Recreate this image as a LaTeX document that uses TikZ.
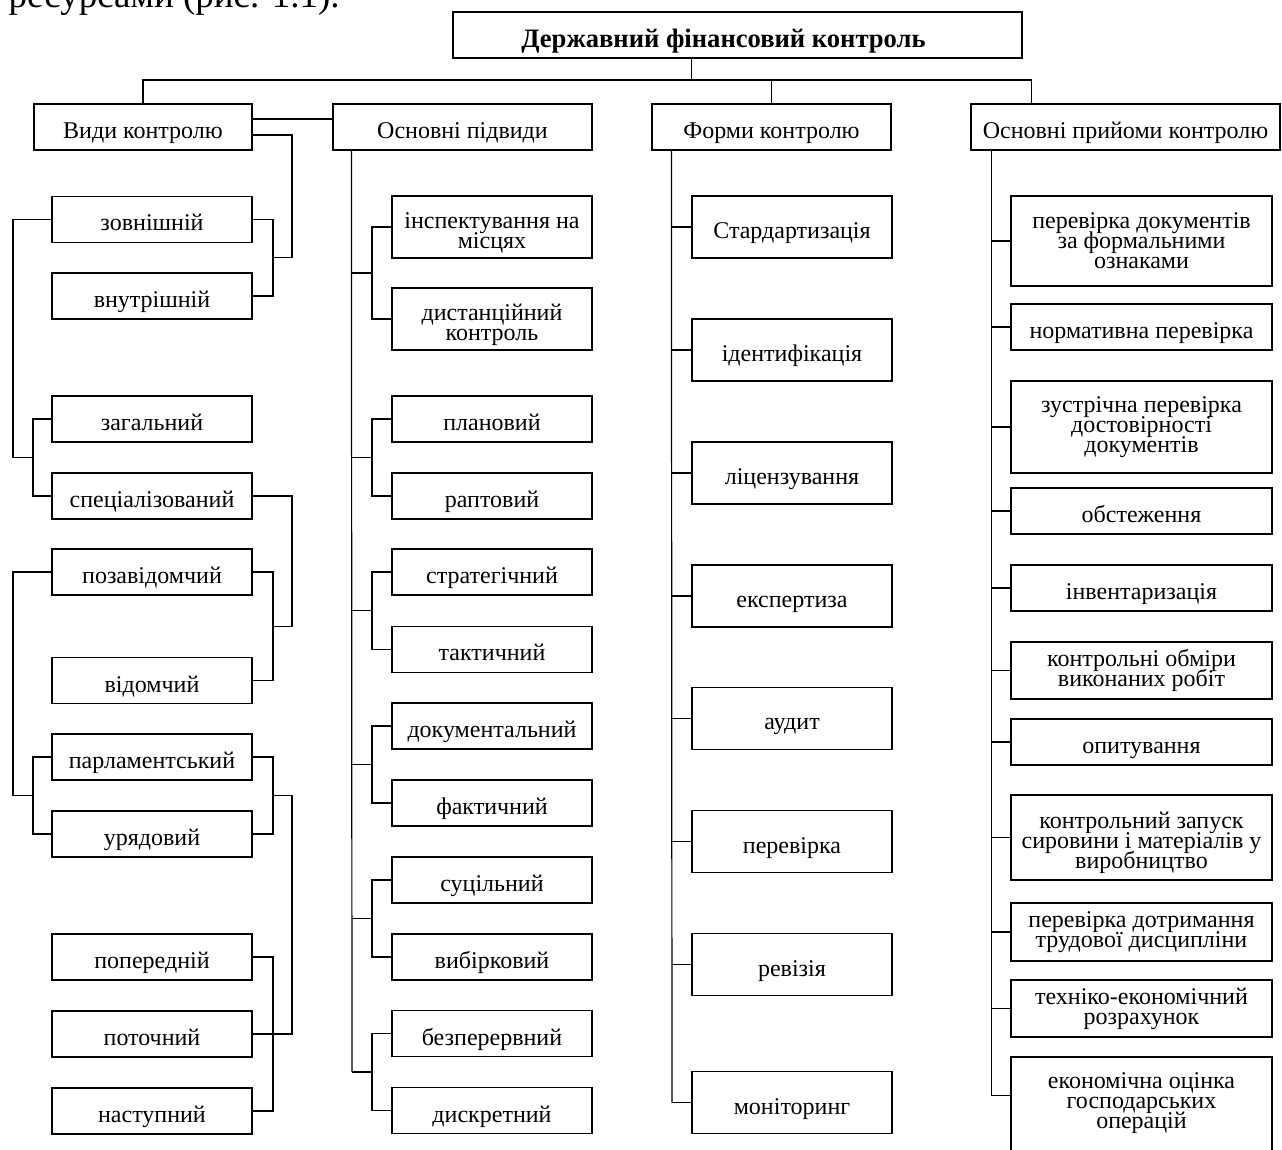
\documentclass[tikz,border=0pt]{standalone}
\usepackage{fontspec}
\setmainfont{Liberation Serif}
\usetikzlibrary{calc}
\newcommand\tightlines{\lineskiplimit=-100pt\relax}

\begin{document}
\begin{tikzpicture}[x=0.5pt,y=-0.5pt,line width=0.6pt,
  kbox/.style={draw, minimum width=100pt, minimum height=23pt, inner sep=1pt,
    align=center, text height=12.5pt, text depth=1pt,
    font=\fontsize{12}{10}\selectfont\tightlines},
  multi/.style={text height=, text depth=},
  tallbox/.style={kbox, minimum height=31pt},
  wbox/.style={kbox, multi, minimum width=130.5pt}]
\useasboundingbox (0,0) rectangle (1282,1150);
% line of the page above the figure:
\node[anchor=base west, inner sep=0, font=\fontsize{18.5}{22}\selectfont] (txt) at (8,8) {ресурсами (рис. 1.1).};
% x of the connector lines:
\coordinate (bus) at (0,80);
\coordinate (l1) at (13,0); \coordinate (l2) at (33,0);
\coordinate (r1) at (273,0); \coordinate (r2) at (292,0);
\coordinate (s2) at (352,0); \coordinate (b2) at (372,0);
\coordinate (s3) at (672,0); \coordinate (s4) at (992,0);

% top:
\node[kbox, minimum width=284.5pt, text height=14pt,
  font=\bfseries\fontsize{13.3}{10}\selectfont] (dfk) at (737.5,35) {Державний фінансовий контроль\hspace*{14pt}};
\node[kbox, minimum width=109pt] (vk) at (143,127) {Види контролю};
\node[kbox, minimum width=129.5pt] (pv) at (462.5,127) {Основні підвиди};
\node[kbox, minimum width=119.5pt] (fk) at (771.5,127) {Форми контролю};
\node[kbox, minimum width=154.5pt] (pk) at (1125.5,127) {Основні прийоми контролю};
\draw ($(dfk.south west)+(239,0)$) coordinate (t) -- (t |- bus);
\coordinate (pk61) at ($(pk.north west)+(61,0)$);
\draw (vk.north) -- (vk.north |- bus) -- (pk61 |- bus) -- (pk61);
\draw (fk.north) -- (fk.north |- bus);

% Види контролю:
\node[kbox] (zov) at (152,219.5) {зовнішній};
\node[kbox] (vnu) at (152,296) {внутрішній};
\node[kbox] (zag) at (152,419) {загальний};
\node[kbox] (spe) at (152,496) {спеціалізований};
\node[kbox] (poz) at (152,572) {позавідомчий};
\node[kbox] (vid) at (152,680.5) {відомчий};
\node[kbox] (par) at (152,757) {парламентський};
\node[kbox] (ur) at (152,834) {урядовий};
\node[kbox] (pop) at (152,957) {попередній};
\node[kbox] (pot) at (152,1034) {поточний};
\node[kbox] (nas) at (152,1111) {наступний};
\draw ($(vk.east)+(0,-8)$) coordinate (a1) -- (pv.west |- a1);
\draw (zov.east) -- (zov.east -| r1) -- (vnu.east -| r1) -- (vnu.east);
\coordinate (m1) at ($(zov.east)!0.5!(vnu.east)$);
\draw ($(vk.east)+(0,8)$) -| (r2 |- m1) -- (r1 |- m1);
\draw (zag.west) -- (zag.west -| l2) -- (spe.west -| l2) -- (spe.west);
\coordinate (m2) at ($(zag.west)!0.5!(spe.west)$);
\draw (zov.west) -| (l1 |- m2) -- (l2 |- m2);
\draw (poz.east) -- (poz.east -| r1) -- (vid.east -| r1) -- (vid.east);
\coordinate (m3) at ($(poz.east)!0.5!(vid.east)$);
\draw (spe.east) -| (r2 |- m3) -- (r1 |- m3);
\draw (par.west) -- (par.west -| l2) -- (ur.west -| l2) -- (ur.west);
\coordinate (m4) at ($(par.west)!0.5!(ur.west)$);
\draw (poz.west) -| (l1 |- m4) -- (l2 |- m4);
\draw (par.east) -- (par.east -| r1) -- (ur.east -| r1) -- (ur.east);
\coordinate (m5) at ($(par.east)!0.5!(ur.east)$);
\draw (r1 |- m5) -- (r2 |- m5) |- (pot.east);
\draw (pop.east) -- (pop.east -| r1) -- (nas.east -| r1) -- (nas.east);

% Основні підвиди:
\node[tallbox, multi] (insp) at (492,227) {\rule{0pt}{14pt}інспектування на\\місцях};
\node[tallbox, multi] (dist) at (492,319) {\rule{0pt}{14pt}дистанційний\\контроль};
\node[kbox] (plan) at (492,419) {плановий};
\node[kbox] (rapt) at (492,496) {раптовий};
\node[kbox] (str) at (492,572) {стратегічний};
\node[kbox] (tak) at (492,649.5) {тактичний};
\node[kbox] (dok) at (492,726) {документальний};
\node[kbox] (fak) at (492,803) {фактичний};
\node[kbox] (suc) at (492,880) {суцільний};
\node[kbox] (vyb) at (492,957) {вибірковий};
\node[kbox] (bez) at (492,1033.5) {безперервний};
\node[kbox] (dys) at (492,1110.5) {дискретний};
\foreach \a/\b in {insp/dist,plan/rapt,str/tak,dok/fak,suc/vyb,bez/dys}{
  \draw (\a.west) -- (\a.west -| b2) -- (\b.west -| b2) -- (\b.west);
  \path ($(\a.west)!0.5!(\b.west)$) coordinate (m);
  \draw (m -| s2) -- (m -| b2);
}
\coordinate (mend) at ($(bez.west)!0.5!(dys.west)$);
\draw ($(pv.south west)+(19,0)$) -- (s2 |- mend);

% Форми контролю:
\foreach \y/\t [count=\i] in {227/Стардартизація,350/ідентифікація,473/ліцензування,596/експертиза,718.5/аудит,841.5/перевірка,964.5/ревізія,1102.5/моніторинг}{
  \node[tallbox] (f\i) at (792,\y) {\t};
  \draw (f\i.west) -- (f\i.west -| s3);
}
\draw ($(fk.south west)+(20,0)$) -- (s3 |- f8.west);

% Основні прийоми контролю:
\node[wbox, minimum height=45pt] (pd) at (1141.5,241) {перевірка документів\\за формальними\\ознаками};
\node[wbox, text height=12.5pt, text depth=1pt] (nv) at (1141.5,327) {нормативна перевірка};
\node[wbox, minimum height=46pt] (zp) at (1141.5,427) {зустрічна перевірка\\достовірності\\документів};
\node[wbox, text height=12.5pt, text depth=1pt] (ob) at (1141.5,511) {обстеження};
\node[wbox, text height=12.5pt, text depth=1pt] (inv) at (1141.5,588) {інвентаризація};
\node[wbox, minimum height=28.5pt] (ko) at (1141.5,670.5) {контрольні обміри\\виконаних робіт};
\node[wbox, text height=12.5pt, text depth=1pt] (op) at (1141.5,742) {опитування};
\node[wbox, minimum height=42.5pt] (kz) at (1141.5,837.5) {\rule{0pt}{14pt}контрольний запуск\\сировини і матеріалів у\\виробництво};
\node[wbox, minimum height=29pt] (pdd) at (1141.5,932) {перевірка дотримання\\трудової дисципліни};
\node[wbox, minimum height=28.5pt] (te) at (1141.5,1008.5) {техніко-економічний\\розрахунок};
\node[wbox, minimum height=53.5pt] (eo) at (1141.5,1110.5) {економічна оцінка\\господарських\\операцій\\ \mbox{}};
\foreach \n in {pd,nv,zp,ob,inv,ko,op,kz,pdd,te}
  \draw (\n.west) -- (\n.west -| s4);
\draw ($(pk.south west)+(21,0)$) |- ($(eo.west)+(0,-15)$);
\end{tikzpicture}
\end{document}
